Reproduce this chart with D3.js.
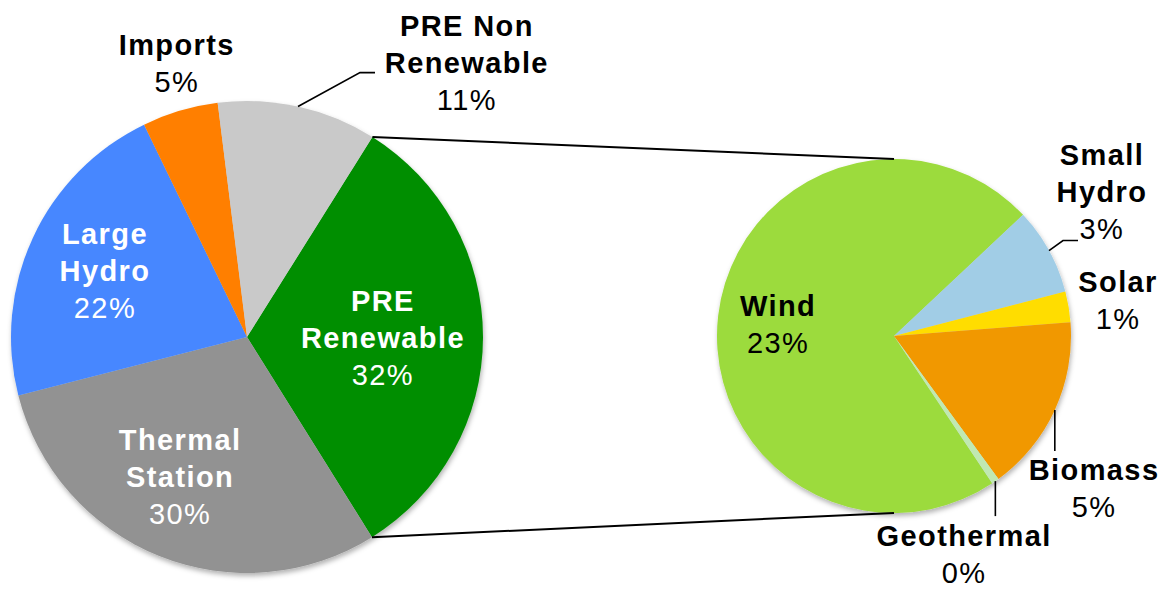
<!DOCTYPE html>
<html lang="en">
<head>
  <meta charset="utf-8">
  <title>Generation mix</title>
  <style>
    body { margin: 0; background: #fff; }
    text { font-family: "Liberation Sans", Arial, Helvetica, sans-serif; font-size: 29px; letter-spacing: 1.4px; }
    .name { font-weight: bold; }
  </style>
</head>
<body>
  <script src="https://d3js.org/d3.v7.min.js"></script>
  <svg></svg>
  <script>

// Main mix (percent of total)
var mainNames  = ["PRE\nRenewable", "Thermal\nStation", "Large\nHydro", "Imports", "PRE Non\nRenewable"];
var mainValues = [32.2, 29.9, 21.8, 5.2, 10.9];
var mainColors = ["#028e00", "#929292", "#4687ff", "#ff7f00", "#c9c9c9"];

// Breakdown of PRE Renewable (percent of total)
var subNames  = ["Wind", "Small\nHydro", "Solar", "Biomass", "Geothermal"];
var subValues = [23.2, 2.55, 0.9, 5.19, 0.22];
var subColors = ["#9cdb3d", "#a1cde6", "#ffdd00", "#f19800", "#c0e9b2"];

var width = 1171, height = 589;
var rad = Math.PI / 180;

var svg = d3.select('svg')
            .attr('width', width)
            .attr('height', height);

// soft shadow under the pies
var shadow = svg.append('defs').append('filter')
   .attr('id', 'shadow')
   .attr('x', '-10%').attr('y', '-10%')
   .attr('width', '120%').attr('height', '120%');
shadow.append('feDropShadow')
   .attr('dx', 1).attr('dy', 3)
   .attr('stdDeviation', 2.5)
   .attr('flood-color', '#000')
   .attr('flood-opacity', 0.3);

// label placement: polar anchor (deg, radius factor), text colour, optional leader steps
var mainLayout = [
  {a: 90.4,  k: 0.576, fill: '#fff'},
  {a: 205.6, k: 0.656, fill: '#fff'},
  {a: 294.8, k: 0.663, fill: '#fff'},
  {a: 345.6, k: 1.196, fill: '#000'},
  {a: 38.7,  k: 1.49,  fill: '#000', leader: [[62, -34], [15, 0]]}
];
var subLayout = [
  {a: 275.7, k: 0.658, fill: '#000'},
  {a: 55.3,  k: 1.429, fill: '#000', leader: [[14, -10], [15, 0]]},
  {a: 80.9,  k: 1.282, fill: '#000'},
  {a: 127.3, k: 1.421, fill: '#000', leader: [[0, 41]]},
  {a: 162.2, k: 1.296, fill: '#000', leader: [[0, 35]]}
];

var main = {cx: 247, cy: 337, r: 236, start: 32.1 * rad};
var sub  = {cx: 894, cy: 336, r: 177, start: 146.3 * rad};

function polar(p, a, R) {
  return [p.cx + R * Math.sin(a), p.cy - R * Math.cos(a)];
}

function drawPie(p, names, values, colors, layout) {
  var arcs = d3.pie().sort(null)
     .startAngle(p.start).endAngle(p.start + 2 * Math.PI)(values);
  var arc = d3.arc().innerRadius(0).outerRadius(p.r);

  svg.append('g')
     .attr('transform', 'translate(' + p.cx + ',' + p.cy + ')')
     .attr('filter', 'url(#shadow)')
     .selectAll('path')
     .data(arcs)
     .enter()
     .append('path')
     .attr('d', arc)
     .attr('fill', function(d, i) { return colors[i]; });

  arcs.forEach(function(d, i) {
    var L = layout[i];
    var lines = names[i].split('\n');
    var pos = polar(p, L.a * rad, p.r * L.k);
    var all = lines.concat([Math.round(values[i]) + '%']);
    var n = all.length;
    var t = svg.append('text')
       .attr('text-anchor', 'middle')
       .attr('fill', L.fill);
    all.forEach(function(s, j) {
      t.append('tspan')
       .attr('class', j < n - 1 ? 'name' : null)
       .attr('x', pos[0])
       .attr('y', pos[1] + 10 + (j - (n - 1) / 2) * 37)
       .text(s);
    });

    if (L.leader) {
      var mid = (d.startAngle + d.endAngle) / 2;
      var pt = polar(p, mid, p.r);
      var pts = [pt.slice()];
      L.leader.forEach(function(s) {
        pt = [pt[0] + s[0], pt[1] + s[1]];
        pts.push(pt);
      });
      svg.append('path')
         .attr('d', d3.line()(pts))
         .attr('fill', 'none')
         .attr('stroke', '#000')
         .attr('stroke-width', 1.6);
    }
  });
  return arcs;
}

var mainArcs = drawPie(main, mainNames, mainValues, mainColors, mainLayout);
drawPie(sub, subNames, subValues, subColors, subLayout);

// connectors from the PRE Renewable slice to the breakdown pie
var pre = mainArcs[0];
[[pre.startAngle, 0], [pre.endAngle, Math.PI]].forEach(function(c) {
  svg.append('path')
     .attr('d', d3.line()([polar(main, c[0], main.r), polar(sub, c[1], sub.r)]))
     .attr('stroke', '#000')
     .attr('stroke-width', 2);
});

  </script>
</body>
</html>
